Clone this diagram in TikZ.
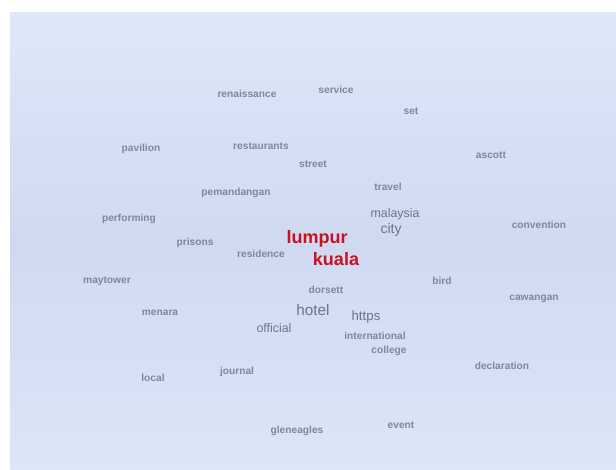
\documentclass[tikz,border=0pt]{standalone}
\usepackage{fontspec}
\setmainfont{Liberation Sans}
\definecolor{bgtop}{HTML}{DEE8F9}
\definecolor{bgmid}{HTML}{CFD9F1}
\definecolor{bgbot}{HTML}{DCE6F8}
\definecolor{wgray}{HTML}{80879A}
\definecolor{wdark}{HTML}{6E7584}
\definecolor{wred}{HTML}{CC1020}
\begin{document}
\begin{tikzpicture}[x=1pt,y=-1pt,
  word/.style={inner sep=0pt,text=wgray,font=\fontsize{10.2}{12}\selectfont\bfseries},
  midword/.style={inner sep=0pt,text=wdark,font=\fontsize{12.4}{14}\selectfont},
  bigword/.style={inner sep=0pt,text=wdark,font=\fontsize{14}{16}\selectfont},
  keyword/.style={inner sep=0pt,text=wred,font=\fontsize{18}{20}\selectfont\bfseries}]
\useasboundingbox (0,0) rectangle (616,470);
\fill[white] (0,0) rectangle (616,470);
\shade[top color=bgtop,bottom color=bgbot,middle color=bgmid] (10,13) rectangle (616,470);
\node[word] (renaissance) at (247,94) {renaissance};
\node[word] (service) at (336,90) {service};
\node[word] (set) at (411,111) {set};
\node[word] (pavilion) at (141,149) {pavilion};
\node[word] (restaurants) at (261,146) {restaurants};
\node[word] (street) at (313,164) {street};
\node[word] (ascott) at (491,155) {ascott};
\node[word] (travel) at (388,187) {travel};
\node[word] (pemandangan) at (236,193) {pemandangan};
\node[midword] (malaysia) at (395,214) {malaysia};
\node[word] (performing) at (129,219) {performing};
\node[word] (convention) at (539,225) {convention};
\node[bigword] (city) at (391,230) {city};
\node[keyword] (lumpur) at (317,239) {lumpur};
\node[word] (prisons) at (195,243) {prisons};
\node[word] (residence) at (261,254) {residence};
\node[keyword] (kuala) at (336,259) {kuala};
\node[word] (maytower) at (107,281) {maytower};
\node[word] (bird) at (442,281) {bird};
\node[word] (dorsett) at (326,290) {dorsett};
\node[word] (cawangan) at (534,299) {cawangan};
\node[bigword,font=\fontsize{15.3}{17}\selectfont] (hotel) at (313,310) {hotel};
\node[word] (menara) at (160,313) {menara};
\node[bigword,font=\fontsize{13.3}{15}\selectfont] (https) at (366,317) {https};
\node[midword] (official) at (274,328) {official};
\node[word] (international) at (375,336) {international};
\node[word] (college) at (389,351) {college};
\node[word] (declaration) at (502,366) {declaration};
\node[word] (local) at (153,378) {local};
\node[word] (journal) at (237,372) {journal};
\node[word] (gleneagles) at (297,431) {gleneagles};
\node[word] (event) at (401,425) {event};
\end{tikzpicture}
\end{document}
